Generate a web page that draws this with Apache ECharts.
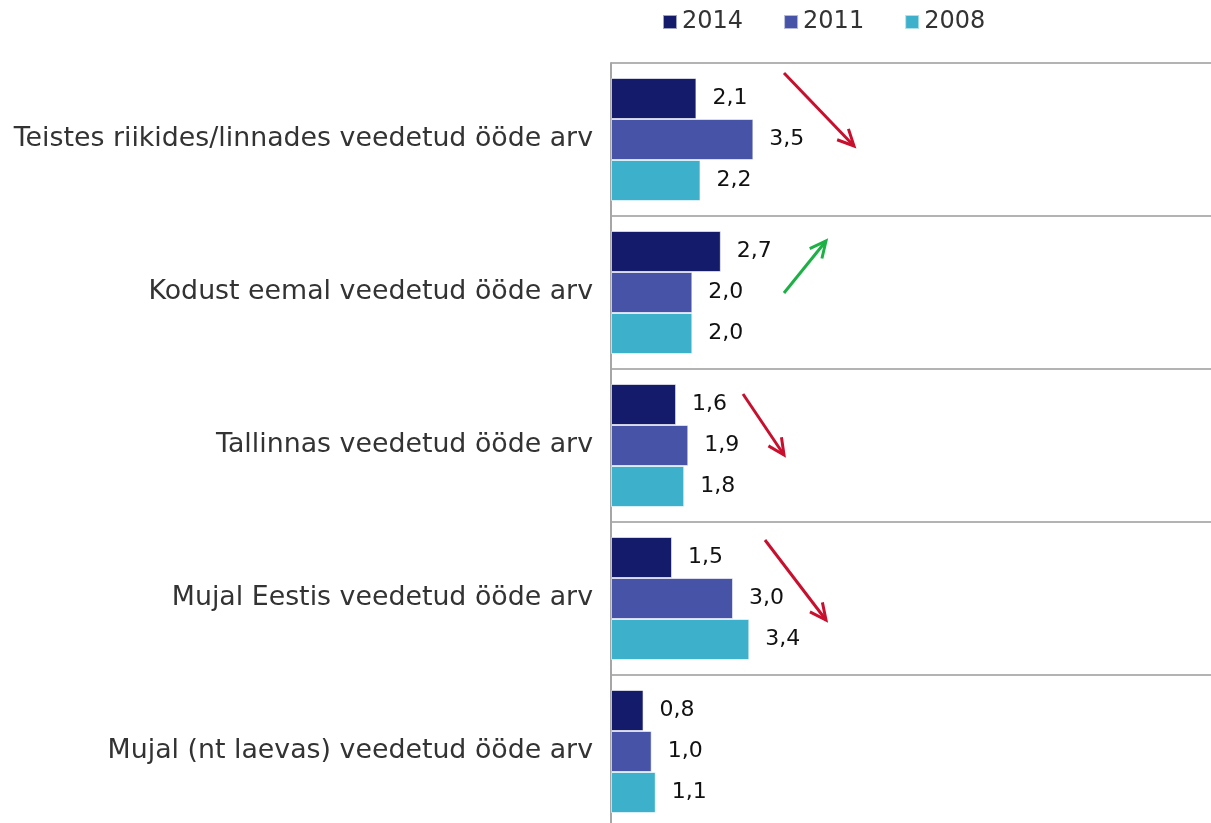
<!DOCTYPE html>
<html>
<head>
<meta charset="utf-8">
<script src="https://cdn.jsdelivr.net/npm/echarts@6/dist/echarts.min.js"></script>
<style>
  html, body { margin: 0; padding: 0; background: #fff; }
  #main { width: 1211px; height: 823px; }
</style>
</head>
<body>
<div id="main"></div>
<script>
var categories = [
  'Teistes riikides/linnades veedetud ööde arv',
  'Kodust eemal veedetud ööde arv',
  'Tallinnas veedetud ööde arv',
  'Mujal Eestis veedetud ööde arv',
  'Mujal (nt laevas) veedetud ööde arv'
];
var years = ['2014', '2011', '2008'];
var v2014 = [2.1, 2.7, 1.6, 1.5, 0.8];
var v2011 = [3.5, 2.0, 1.9, 3.0, 1.0];
var v2008 = [2.2, 2.0, 1.8, 3.4, 1.1];
var colors = ['#141B6B', '#4653A6', '#3DB1CC'];

// trend arrows: [x1, y1, x2, y2, colour]
var arrows = [
  [784, 73, 854, 146, '#C8102E'],
  [784, 293, 826, 241, '#1DB045'],
  [743, 394, 784, 455, '#C8102E'],
  [765, 540, 826, 620, '#C8102E']
];

function arrowGraphic(a) {
  var x1 = a[0], y1 = a[1], x2 = a[2], y2 = a[3];
  var ang = Math.atan2(y2 - y1, x2 - x1);
  var len = 18, spread = 0.45;
  var h1 = [x2 - len * Math.cos(ang - spread), y2 - len * Math.sin(ang - spread)];
  var h2 = [x2 - len * Math.cos(ang + spread), y2 - len * Math.sin(ang + spread)];
  return [
    { type: 'polyline', shape: { points: [[x1, y1], [x2, y2]] },
      style: { stroke: a[4], lineWidth: 3, fill: null } },
    { type: 'polyline', shape: { points: [h1, [x2, y2], h2] },
      style: { stroke: a[4], lineWidth: 3, fill: null, lineJoin: 'miter' } }
  ];
}

var graphics = [];
arrows.forEach(function (a) { graphics = graphics.concat(arrowGraphic(a)); });

function fmt(p) { return p.value.toFixed(1).replace('.', ','); }

function makeSeries(name, data, i) {
  return {
    name: name,
    type: 'bar',
    data: data,
    barWidth: 41,
    barGap: '0%',
    itemStyle: { color: colors[i], borderColor: 'rgba(255,255,255,0.6)', borderWidth: 1 },
    label: {
      show: true,
      position: 'right',
      distance: 16,
      formatter: fmt,
      color: '#111',
      fontFamily: 'DejaVu Sans',
      fontSize: 22
    }
  };
}

var myChart = echarts.init(document.getElementById('main'));
var option = {
  animation: false,
  color: colors,
  legend: {
    data: years,
    left: 657,
    top: 5,
    itemWidth: 14,
    itemHeight: 14,
    itemGap: 40,
    icon: 'rect',
    textStyle: { fontFamily: 'DejaVu Sans', fontSize: 24, color: '#333' }
  },
  grid: { left: 611, right: 0, top: 63, height: 765, outerBoundsMode: 'none' },
  xAxis: {
    type: 'value',
    min: 0,
    max: 14.75,
    show: false
  },
  yAxis: {
    type: 'category',
    data: categories,
    inverse: true,
    axisLine: { show: true, lineStyle: { color: '#A6A6A6', width: 2 } },
    axisTick: { show: false },
    splitLine: { show: true, lineStyle: { color: '#B3B3B3', width: 2 } },
    axisLabel: {
      margin: 18,
      fontFamily: 'DejaVu Sans',
      fontSize: 26.8,
      color: '#333'
    }
  },
  graphic: graphics,
  series: [
    makeSeries(years[0], v2014, 0),
    makeSeries(years[1], v2011, 1),
    makeSeries(years[2], v2008, 2)
  ]
};
myChart.setOption(option);
</script>
</body>
</html>
